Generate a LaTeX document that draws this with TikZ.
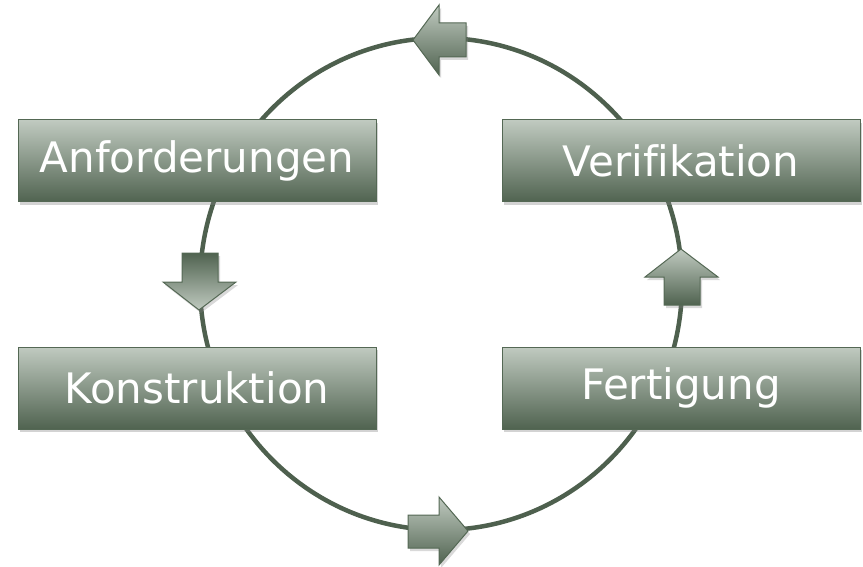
\documentclass[tikz,border=0pt]{standalone}
\usepackage{fontspec}
\setmainfont[Ligatures=NoCommon]{DejaVu Sans}
\usetikzlibrary{shadows}
\definecolor{boxtop}{RGB}{192,202,192}
\definecolor{boxbot}{RGB}{80,99,80}
\definecolor{ringcol}{RGB}{78,96,78}
\definecolor{edgecol}{RGB}{84,104,84}
\tikzset{
  stage/.style={draw=edgecol, line width=1pt, top color=boxtop, bottom color=boxbot,
    minimum width=358pt, minimum height=82pt, inner sep=0pt, text=white,
    font=\fontsize{42}{46}\selectfont,
    drop shadow={shadow xshift=2pt, shadow yshift=-3pt, opacity=0.35}},
  blockarrow/.style={draw=edgecol, line width=1pt, line join=miter,
    drop shadow={shadow xshift=2pt, shadow yshift=-3pt, opacity=0.3}},
  ring/.style={draw=ringcol, line width=4.5pt}
}
\begin{document}
\begin{tikzpicture}[x=1pt,y=-1pt]
\useasboundingbox (0,0) rectangle (863,567);
% cycle ring
\draw[ring] (441,284) ellipse [x radius=241, y radius=246];
% block arrows
\path[blockarrow, top color=boxtop, bottom color=boxbot]
  (413,40) -- (439,5) -- (439,23) -- (466,23) -- (466,57) -- (439,57) -- (439,75) -- cycle;
\path[blockarrow, top color=boxtop, bottom color=boxbot]
  (468,531) -- (439,497) -- (439,515) -- (408,515) -- (408,548) -- (439,548) -- (439,565) -- cycle;
\path[blockarrow, top color=boxbot, bottom color=boxtop]
  (199,310) -- (163,282) -- (182,282) -- (182,253) -- (218,253) -- (218,282) -- (236,282) -- cycle;
\path[blockarrow, top color=boxtop, bottom color=boxbot]
  (681,249) -- (645,277) -- (664,277) -- (664,305) -- (700,305) -- (700,277) -- (718,277) -- cycle;
% stages
\node[stage] (anf) at (197,161) {Anforderungen};
\node[stage] (ver) at (681,161) {Verifikation};
\node[stage] (kon) at (197,388) {Konstruktion};
\node[stage] (fer) at (681,388) {Fertigung};
\end{tikzpicture}
\end{document}
